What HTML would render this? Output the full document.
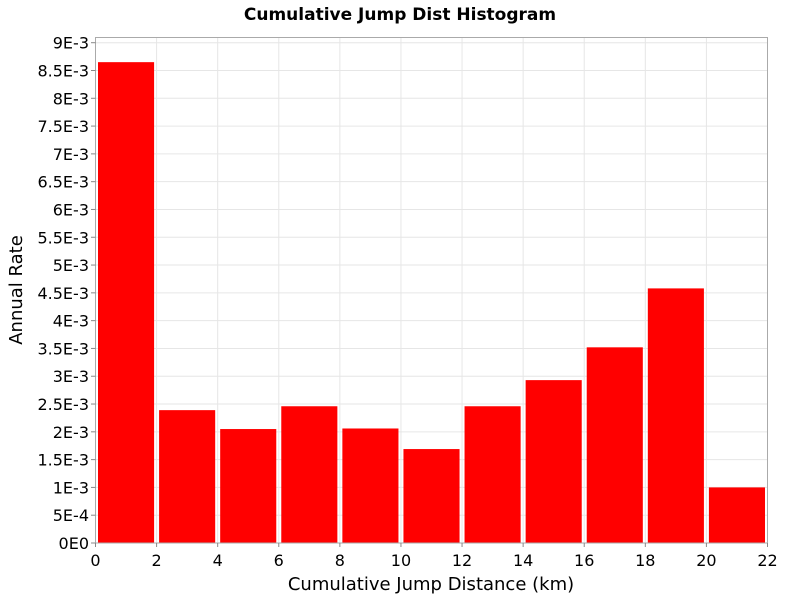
<!DOCTYPE html>
<html><head><meta charset="utf-8"><style>
body{margin:0;background:#fff;}
svg{font-family:"Liberation Sans","DejaVu Sans",sans-serif;}
</style></head><body>
<svg id="chart" width="800" height="600">
<text x="400" y="20" text-anchor="middle" font-size="17" font-weight="bold" font-family="DejaVu Sans, sans-serif">Cumulative Jump Dist Histogram</text>
<g id="grid"></g>
<g id="bars"></g>
<rect x="95.5" y="37.5" width="672" height="505.5" fill="none" stroke="#aaa"/>
<g id="xt"></g>
<g id="yt"></g>
<text x="431" y="590" text-anchor="middle" font-size="18" font-family="DejaVu Sans, sans-serif">Cumulative Jump Distance (km)</text>
<text transform="translate(22,290) rotate(-90)" text-anchor="middle" font-size="18" font-family="DejaVu Sans, sans-serif">Annual Rate</text>
</svg>
<script>
const binStarts=[0,2,4,6,8,10,12,14,16,18,20];
const rates=[8.65e-3,2.39e-3,2.05e-3,2.46e-3,2.06e-3,1.69e-3,2.46e-3,2.93e-3,3.52e-3,4.58e-3,1.0e-3];
const xTicks=[0,2,4,6,8,10,12,14,16,18,20,22];
const yTicks=[0,5e-4,1e-3,1.5e-3,2e-3,2.5e-3,3e-3,3.5e-3,4e-3,4.5e-3,5e-3,5.5e-3,6e-3,6.5e-3,7e-3,7.5e-3,8e-3,8.5e-3,9e-3];
const yLabels=["0E0","5E-4","1E-3","1.5E-3","2E-3","2.5E-3","3E-3","3.5E-3","4E-3","4.5E-3","5E-3","5.5E-3","6E-3","6.5E-3","7E-3","7.5E-3","8E-3","8.5E-3","9E-3"];
const binWidth=2;
const X0=95.5,X1=767.5,Y0=543,Y9=42.7;
const xs=v=>X0+(v/22)*(X1-X0);
const ys=v=>Y0-(v/9e-3)*(Y0-Y9);
const NS="http://www.w3.org/2000/svg";
const mk=(t,a)=>{const e=document.createElementNS(NS,t);for(const k in a)e.setAttribute(k,a[k]);return e;};
const grid=document.getElementById('grid'),bars=document.getElementById('bars'),xt=document.getElementById('xt'),yt=document.getElementById('yt');
xTicks.forEach(v=>{
  const l=mk('line',{x1:xs(v),x2:xs(v),y1:37.5,y2:543,stroke:'#e6e6e6'});
  
  
  grid.appendChild(l);
  const tk=mk('line',{x1:xs(v),x2:xs(v),y1:543,y2:547,stroke:'#888'});
  
  
  xt.appendChild(tk);
  const t=mk('text',{x:xs(v),y:566,'text-anchor':'middle','font-size':'16','font-family':'DejaVu Sans, sans-serif'});
  t.textContent=v;
  
  
  xt.appendChild(t);
});
yTicks.forEach((v,i)=>{
  const l=mk('line',{x1:95.5,x2:767.5,y1:ys(v),y2:ys(v),stroke:'#e6e6e6'});
  
  
  grid.appendChild(l);
  const tk=mk('line',{x1:91,x2:95.5,y1:ys(v),y2:ys(v),stroke:'#888'});
  
  
  yt.appendChild(tk);
  const t=mk('text',{x:89,y:ys(v)+6,'text-anchor':'end','font-size':'16','font-family':'DejaVu Sans, sans-serif'});
  t.textContent=yLabels[i];
  
  
  yt.appendChild(t);
});
binStarts.forEach((s,i)=>{
  const x1=xs(s)+2.5,x2=xs(s+binWidth)-2.5;
  const r=mk('rect',{x:x1,y:ys(rates[i]),width:x2-x1,height:Y0-ys(rates[i]),fill:'#ff0000'});
  
  
  bars.appendChild(r);
});
</script>
</body></html>
